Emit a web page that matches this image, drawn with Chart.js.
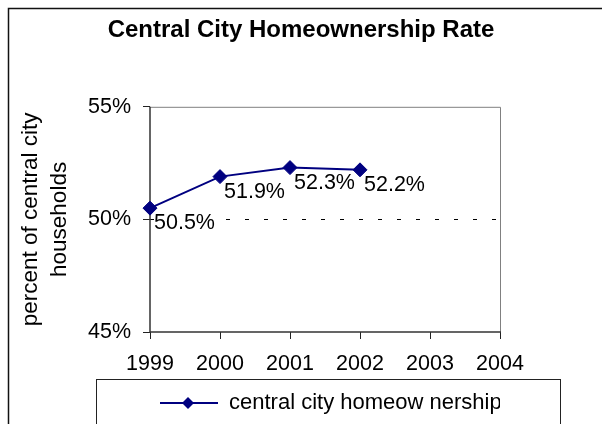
<!DOCTYPE html>
<html>
<head>
<meta charset="utf-8">
<script src="https://cdn.jsdelivr.net/npm/chart.js@4"></script>
<style>
  html, body { margin: 0; padding: 0; background: #fff; }
  #wrap { width: 602px; height: 424px; }
</style>
</head>
<body>
<div id="wrap"><canvas id="chart" width="602" height="424"></canvas></div>
<script>
// chart data
const years = ['1999', '2000', '2001', '2002', '2003', '2004'];
const homeownership = [50.5, 51.9, 52.3, 52.2, null, null];
const yTicks = [45, 50, 55];

const navy = '#000080';
const fontFamily = "'Liberation Sans', Arial, sans-serif";

// legend symbol: line with a diamond in the middle
function legendSymbol() {
    const c = document.createElement('canvas');
    c.width = 58;
    c.height = 14;
    const g = c.getContext('2d');
    g.strokeStyle = navy;
    g.lineWidth = 2;
    g.beginPath();
    g.moveTo(0, 7);
    g.lineTo(58, 7);
    g.stroke();
    g.fillStyle = navy;
    g.beginPath();
    g.moveTo(28, 1);
    g.lineTo(34, 7);
    g.lineTo(28, 13);
    g.lineTo(22, 7);
    g.closePath();
    g.fill();
    return c;
}

// frame around plot area, outer chart border and legend box
const framePlugin = {
    id: 'frame',
    beforeDatasetsDraw(chart) {
        const { ctx, chartArea: a } = chart;
        ctx.save();
        ctx.lineWidth = 1;
        ctx.strokeStyle = '#808080';
        ctx.beginPath();
        ctx.moveTo(a.left, a.top + 0.5);
        ctx.lineTo(a.right + 0.5, a.top + 0.5);
        ctx.lineTo(a.right + 0.5, a.bottom);
        ctx.stroke();
        ctx.strokeStyle = '#333';
        ctx.lineWidth = 1.5;
        ctx.beginPath();
        ctx.moveTo(a.left, a.top);
        ctx.lineTo(a.left, a.bottom);
        ctx.lineTo(a.right + 1, a.bottom);
        ctx.stroke();
        ctx.restore();
    },
    afterDraw(chart) {
        const { ctx, legend } = chart;
        ctx.save();
        ctx.strokeStyle = '#111';
        ctx.lineWidth = 1.5;
        ctx.beginPath();
        ctx.moveTo(8.5, chart.height);
        ctx.lineTo(8.5, 8.5);
        ctx.lineTo(chart.width, 8.5);
        ctx.stroke();
        // legend box
        const cx = legend.left + legend.width / 2 + 3;
        ctx.lineWidth = 1;
        ctx.strokeStyle = '#222';
        ctx.strokeRect(Math.round(cx - 232) + 0.5, legend.top - 2.5, 464, 60);
        ctx.restore();
    }
};

// value labels to the lower right of each point
const labelPlugin = {
    id: 'pointLabels',
    afterDatasetsDraw(chart) {
        const { ctx } = chart;
        const meta = chart.getDatasetMeta(0);
        ctx.save();
        ctx.font = '21.5px ' + fontFamily;
        ctx.textAlign = 'left';
        ctx.textBaseline = 'middle';
        meta.data.forEach((pt, i) => {
            const v = homeownership[i];
            if (v === null) return;
            const text = v.toFixed(1) + '%';
            const x = pt.x + 4;
            const y = pt.y + 15;
            const w = ctx.measureText(text).width;
            ctx.fillStyle = '#fff';
            ctx.fillRect(x, y - 9, w, 18);
            ctx.fillStyle = '#000';
            ctx.fillText(text, x, y);
        });
        ctx.restore();
    }
};

const ctx = document.getElementById('chart').getContext('2d');
new Chart(ctx, {
    type: 'line',
    data: {
        labels: years,
        datasets: [{
            label: 'central city homeow nership',
            data: homeownership,
            borderColor: navy,
            backgroundColor: navy,
            borderWidth: 2,
            tension: 0,
            fill: false,
            pointStyle: 'rectRot',
            pointRadius: 7,
            pointHoverRadius: 7,
            pointBackgroundColor: navy,
            pointBorderColor: navy,
            pointBorderWidth: 1
        }]
    },
    options: {
        responsive: false,
        animation: false,
        events: [],
        layout: { padding: { left: 0, right: 0, top: 0, bottom: 0 } },
        plugins: {
            title: {
                display: true,
                text: 'Central City Homeownership Rate',
                color: '#000',
                font: { family: fontFamily, size: 24, weight: 'bold', lineHeight: 1.2 },
                padding: { top: 16, bottom: 62 }
            },
            legend: {
                display: true,
                position: 'bottom',
                fullSize: false,
                align: 'start',
                labels: {
                    color: '#000',
                    font: { family: fontFamily, size: 22 },
                    usePointStyle: true,
                    pointStyleWidth: 58,
                    padding: 10,
                    generateLabels(chart) {
                        return [{
                            text: chart.data.datasets[0].label,
                            pointStyle: legendSymbol(),
                            fillStyle: navy,
                            strokeStyle: navy,
                            lineWidth: 0,
                            datasetIndex: 0
                        }];
                    }
                }
            },
            tooltip: { enabled: false }
        },
        scales: {
            x: {
                type: 'category',
                offset: false,
                afterFit(scale) { scale.height = 50; },
                grid: {
                    display: true,
                    drawOnChartArea: false,
                    drawTicks: true,
                    tickLength: 7,
                    tickColor: '#222',
                    color: '#222'
                },
                border: { display: false },
                ticks: {
                    color: '#000',
                    font: { family: fontFamily, size: 21.5 },
                    padding: 12,
                    maxRotation: 0,
                    autoSkip: false
                }
            },
            y: {
                min: 45,
                max: 55,
                afterFit(scale) { scale.width = 150; },
                afterBuildTicks(scale) {
                    scale.ticks = yTicks.map(v => ({ value: v }));
                },
                grid: {
                    display: true,
                    drawTicks: true,
                    tickLength: 7,
                    tickColor: '#222',
                    color(c) { return c.tick && c.tick.value === 50 ? '#000' : 'rgba(0,0,0,0)'; },
                    lineWidth: 1
                },
                border: { display: false, dash: [4, 15] },
                ticks: {
                    color: '#000',
                    font: { family: fontFamily, size: 21.5 },
                    padding: 12,
                    callback: v => v + '%'
                },
                title: {
                    display: true,
                    text: ['percent of central city', 'households'],
                    color: '#000',
                    font: { family: fontFamily, size: 22.5, lineHeight: 1.3 },
                    padding: { top: 16, bottom: 0 }
                }
            },
            // empty right-hand axis that only reserves the blank space right of the plot
            spacer: {
                type: 'linear',
                position: 'right',
                min: 0,
                max: 1,
                afterFit(scale) { scale.width = 102; },
                grid: { display: false },
                border: { display: false },
                ticks: { display: false }
            }
        }
    },
    plugins: [framePlugin, labelPlugin]
});
</script>
</body>
</html>
